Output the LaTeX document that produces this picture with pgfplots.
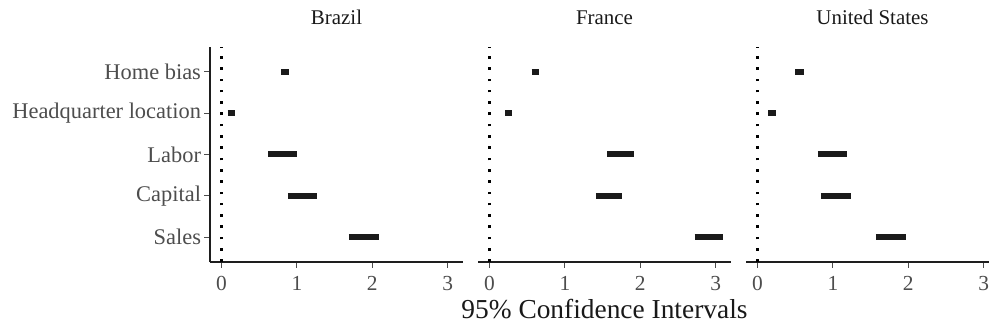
\documentclass[border=0pt]{standalone}
\usepackage{fontspec}
\setmainfont{Liberation Serif}
\usepackage{pgfplots}
\pgfplotsset{compat=1.18}
\definecolor{axtext}{RGB}{77,77,77}
\definecolor{seg}{RGB}{26,26,26}
\definecolor{axl}{RGB}{30,30,30}

\pgfplotsset{
 panel/.style={
  scale only axis, width=253bp, height=215bp,
  xmin=-0.1525, xmax=3.2025, ymin=0.4, ymax=5.6,
  axis x line*=bottom,
  xtick={0,1,2,3},
  /pgf/number format/assume math mode=true,
  tick align=outside, major tick length=5.5bp,
  every tick/.style={axtext, line width=1.1bp},
  axis line style={axl, line width=1.4bp, -},
  ticklabel style={font=\fontsize{21.5}{21.5}\selectfont, text=axtext},
  xticklabel style={yshift=-5bp},
  yticklabel style={font=\fontsize{22.5}{22.5}\selectfont},
  title style={font=\fontsize{21}{21}\selectfont, text=black!90, anchor=base, at={(0.5,1)}, yshift=16.5bp},
  unbounded coords=jump,
  clip=false,
 },
 vl/.style={black, line width=2.6bp, dash pattern=on 2.6bp off 8.7bp, line cap=butt},
 sg/.style={seg, line width=6bp, line cap=butt},
}

\begin{document}
\begin{tikzpicture}[x=1bp,y=1bp]
% Brazil
\begin{axis}[panel, at={(210bp,69bp)}, anchor=south west,
  title={Brazil},
  axis y line*=left,
  ytick={1,2,3,4,5},
  yticklabels={Sales,Capital,Labor,Headquarter location,Home bias}]
\addplot[vl] coordinates {(0,0.4) (0,5.6)};
\addplot[sg] coordinates {
 (0.79,5) (0.90,5) (nan,nan)
 (0.08,4) (0.18,4) (nan,nan)
 (0.62,3) (1.00,3) (nan,nan)
 (0.88,2) (1.26,2) (nan,nan)
 (1.69,1) (2.09,1)};
\end{axis}
% France
\begin{axis}[panel, at={(478bp,69bp)}, anchor=south west,
  title={France},
  axis y line=none, ytick=\empty,
  xlabel={95\% Confidence Intervals},
  xlabel style={font=\fontsize{27.5}{27.5}\selectfont, text=black!90, at={(0.5,0)}, anchor=base, yshift=-56bp}]
\addplot[vl] coordinates {(0,0.4) (0,5.6)};
\addplot[sg] coordinates {
 (0.56,5) (0.65,5) (nan,nan)
 (0.21,4) (0.30,4) (nan,nan)
 (1.56,3) (1.91,3) (nan,nan)
 (1.41,2) (1.76,2) (nan,nan)
 (2.72,1) (3.09,1)};
\end{axis}
% United States
\begin{axis}[panel, at={(746bp,69bp)}, anchor=south west,
  title={United States},
  axis y line=none, ytick=\empty]
\addplot[vl] coordinates {(0,0.4) (0,5.6)};
\addplot[sg] coordinates {
 (0.50,5) (0.61,5) (nan,nan)
 (0.14,4) (0.24,4) (nan,nan)
 (0.80,3) (1.19,3) (nan,nan)
 (0.84,2) (1.24,2) (nan,nan)
 (1.57,1) (1.97,1)};
\end{axis}
\pgfresetboundingbox
\path[use as bounding box] (0,0) rectangle (989bp,331bp);
\end{tikzpicture}
\end{document}
